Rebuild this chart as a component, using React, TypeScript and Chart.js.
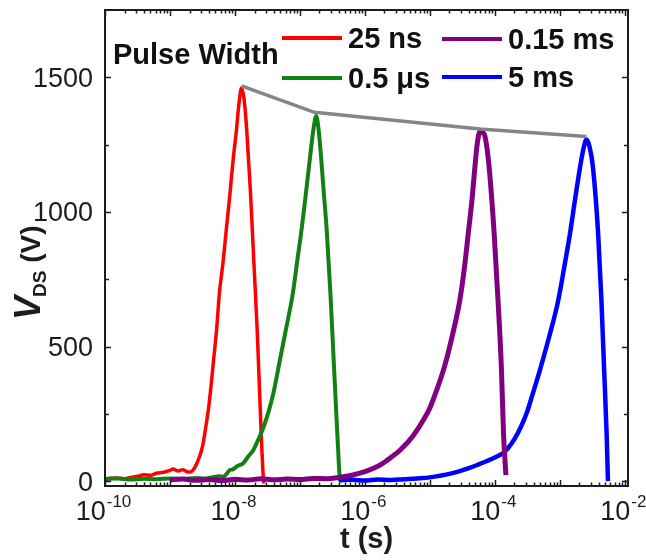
import React, { useEffect, useRef } from "react";
import { Chart, registerables } from "chart.js";

Chart.register(...registerables);

const FONT = '"Liberation Sans", Arial, sans-serif';

// ---- Data (t in seconds, V in volts) ----
const redT = [1e-10, 1.41e-10, 2.0e-10, 2.51e-10, 3.16e-10, 3.98e-10, 5.01e-10, 6.31e-10, 7.94e-10, 1e-9, 1.12e-9, 1.32e-9, 1.58e-9, 1.82e-9, 2.04e-9, 2.4e-9, 2.69e-9, 3.02e-9, 3.24e-9, 3.55e-9, 3.89e-9, 4.27e-9, 4.68e-9, 5.25e-9, 5.75e-9, 6.61e-9, 7.41e-9, 8.32e-9, 9.33e-9, 1.05e-8, 1.15e-8, 1.26e-8, 1.38e-8, 1.51e-8, 1.62e-8, 1.74e-8, 1.95e-8, 2.19e-8, 2.4e-8, 2.57e-8, 2.69e-8, 2.78e-8];
const redV = [8, 12, 9, 14, 18, 24, 22, 30, 33, 40, 45, 38, 42, 35, 34, 50, 75, 110, 140, 200, 263, 350, 448, 570, 696, 820, 942, 1060, 1189, 1300, 1400, 1460, 1420, 1312, 1190, 1066, 818, 571, 325, 140, 40, -8];

const greenT = [1e-10, 1.58e-10, 2.51e-10, 3.98e-10, 6.31e-10, 1e-9, 1.58e-9, 2.51e-9, 3.55e-9, 4.57e-9, 5.62e-9, 6.61e-9, 7.59e-9, 8.32e-9, 9.33e-9, 1.07e-8, 1.35e-8, 1.58e-8, 1.91e-8, 2.29e-8, 2.75e-8, 3.31e-8, 3.89e-8, 4.37e-8, 4.9e-8, 6.17e-8, 7.76e-8, 9.12e-8, 1.07e-7, 1.23e-7, 1.41e-7, 1.62e-7, 1.78e-7, 1.95e-7, 2.14e-7, 2.34e-7, 2.57e-7, 2.95e-7, 3.31e-7, 3.72e-7, 3.98e-7, 4.12e-7];
const greenV = [8, 10, 6, 9, 7, 10, 8, 12, 10, 15, 18, 16, 30, 41, 44, 55, 67, 90, 115, 155, 200, 260, 325, 385, 448, 570, 696, 820, 942, 1065, 1189, 1310, 1356, 1300, 1189, 1065, 942, 696, 448, 200, 60, 0];

const purpleT = [1e-9, 1.58e-9, 2.51e-9, 3.98e-9, 6.31e-9, 1e-8, 1.58e-8, 2.51e-8, 3.98e-8, 6.31e-8, 1e-7, 1.58e-7, 2.51e-7, 3.98e-7, 6.31e-7, 1e-6, 1.58e-6, 2.0e-6, 2.51e-6, 3.47e-6, 5.5e-6, 7.94e-6, 1e-5, 1.26e-5, 1.7e-5, 2.24e-5, 2.88e-5, 3.39e-5, 3.89e-5, 4.47e-5, 4.92e-5, 5.37e-5, 5.89e-5, 6.76e-5, 7.41e-5, 8.18e-5, 9.77e-5, 1.12e-4, 1.26e-4, 1.36e-4, 1.48e-4];
const purpleV = [5, 8, 3, 6, 2, 7, 4, 9, 5, 8, 6, 10, 9, 14, 22, 35, 55, 70, 88, 115, 168, 227, 272, 335, 430, 545, 670, 790, 918, 1050, 1164, 1255, 1298, 1292, 1252, 1164, 918, 670, 423, 177, 22];

const blueT = [3.98e-7, 6.31e-7, 1e-6, 1.58e-6, 2.51e-6, 3.98e-6, 6.31e-6, 1e-5, 1.41e-5, 2.0e-5, 2.88e-5, 3.98e-5, 5.62e-5, 7.41e-5, 1e-4, 1.43e-4, 2.0e-4, 2.51e-4, 3.09e-4, 3.89e-4, 4.9e-4, 6.92e-4, 9.33e-4, 1.17e-3, 1.43e-3, 1.7e-3, 2.04e-3, 2.34e-3, 2.57e-3, 2.88e-3, 3.24e-3, 3.89e-3, 4.37e-3, 4.79e-3, 5.25e-3, 5.5e-3];
const blueV = [3, 5, 2, 6, 4, 7, 10, 14, 20, 27, 37, 48, 62, 74, 88, 110, 156, 201, 253, 330, 410, 540, 665, 795, 918, 1040, 1164, 1240, 1269, 1240, 1164, 918, 670, 423, 177, 0];

const peakT = [1.26e-8, 1.67e-7, 5.89e-5, 2.57e-3];
const peakV = [1468, 1370, 1308, 1280];

const seriesNames = ["25 ns", "0.5 \u03bcs", "0.15 ms", "5 ms"];
const seriesColors = ["#ff0000", "#128012", "#800080", "#0000ff"];

const yMajorTicks = [0, 500, 1000, 1500];
const yMinorTicks = [250, 750, 1250];
const xLabelTicks = [1e-10, 1e-8, 1e-6, 1e-4, 1e-2];
const xLabelExps = ["-10", "-8", "-6", "-4", "-2"];
const xDecades = [-10, -9, -8, -7, -6, -5, -4, -3, -2];

const X_MIN = 1e-10;
const X_MAX = 1.12e-2;
const Y_MIN = -18;
const Y_MAX = 1750;

function pts(ts: number[], vs: number[]) {
  return ts.map((t, i) => ({ x: t, y: vs[i] }));
}

const axisPlugin = {
  id: "axisDecor",
  afterDraw(chart: any) {
    const { ctx, chartArea: a, scales } = chart;
    const xs = scales.x;
    const ys = scales.y;
    ctx.save();
    ctx.strokeStyle = "#1c1c1c";
    ctx.fillStyle = "#1c1c1c";
    ctx.lineWidth = 2;
    ctx.strokeRect(a.left, a.top, a.right - a.left, a.bottom - a.top);

    ctx.lineWidth = 1.5;
    ctx.beginPath();
    for (const v of yMajorTicks) {
      const p = Math.round(ys.getPixelForValue(v)) + 0.5;
      ctx.moveTo(a.left, p); ctx.lineTo(a.left + 6, p);
      ctx.moveTo(a.right, p); ctx.lineTo(a.right - 6, p);
    }
    for (const v of yMinorTicks) {
      const p = Math.round(ys.getPixelForValue(v)) + 0.5;
      ctx.moveTo(a.left, p); ctx.lineTo(a.left + 4, p);
      ctx.moveTo(a.right, p); ctx.lineTo(a.right - 4, p);
    }
    for (const d of xDecades) {
      const base = Math.pow(10, d);
      const p = Math.round(xs.getPixelForValue(base)) + 0.5;
      if (p >= a.left && p <= a.right) {
        ctx.moveTo(p, a.bottom); ctx.lineTo(p, a.bottom - 6);
        ctx.moveTo(p, a.top); ctx.lineTo(p, a.top + 6);
      }
      for (let m = 2; m <= 9; m++) {
        const q = Math.round(xs.getPixelForValue(base * m)) + 0.5;
        if (q > a.left && q < a.right) {
          ctx.moveTo(q, a.bottom); ctx.lineTo(q, a.bottom - 3.5);
          ctx.moveTo(q, a.top); ctx.lineTo(q, a.top + 3.5);
        }
      }
    }
    ctx.stroke();

    ctx.font = `27px ${FONT}`;
    ctx.textAlign = "right";
    ctx.textBaseline = "alphabetic";
    for (const v of yMajorTicks) {
      const p = ys.getPixelForValue(v);
      ctx.fillText(String(v), a.left - 12, p + 9.5);
    }

    ctx.textAlign = "left";
    xLabelTicks.forEach((t, i) => {
      const p = xs.getPixelForValue(t);
      ctx.font = `27px ${FONT}`;
      const wb = ctx.measureText("10").width;
      ctx.font = `17px ${FONT}`;
      const we = ctx.measureText(xLabelExps[i]).width;
      const start = p - (wb + we) / 2 - 2;
      ctx.font = `27px ${FONT}`;
      ctx.fillText("10", start, 520);
      ctx.font = `17px ${FONT}`;
      ctx.fillText(xLabelExps[i], start + wb + 1, 507);
    });

    ctx.font = `bold 29px ${FONT}`;
    ctx.textAlign = "center";
    ctx.fillText("t (s)", (a.left + a.right) / 2, 548);

    ctx.save();
    ctx.translate(40, 320);
    ctx.rotate(-Math.PI / 2);
    ctx.textAlign = "left";
    ctx.font = `italic bold 36px ${FONT}`;
    ctx.fillText("V", 0, 0);
    let off = ctx.measureText("V").width - 1;
    ctx.font = `bold 19px ${FONT}`;
    ctx.fillText("DS", off, 6);
    off += ctx.measureText("DS").width;
    ctx.font = `bold 28px ${FONT}`;
    ctx.fillText(" (V)", off, 0);
    ctx.restore();

    ctx.fillStyle = "#111";
    ctx.font = `bold 29px ${FONT}`;
    ctx.textAlign = "left";
    ctx.fillText("Pulse Width", 113, 64);
    const lx = [282, 282, 442, 442];
    const ly = [38, 78, 39, 77];
    ctx.lineWidth = 4;
    for (let i = 0; i < 4; i++) {
      ctx.strokeStyle = seriesColors[i];
      ctx.beginPath();
      ctx.moveTo(lx[i], ly[i]);
      ctx.lineTo(lx[i] + 60, ly[i]);
      ctx.stroke();
      ctx.fillStyle = "#111";
      ctx.fillText(seriesNames[i], lx[i] + 66, ly[i] + 10);
    }
    ctx.restore();
  },
};

export default function App() {
  const ref = useRef<HTMLCanvasElement | null>(null);
  useEffect(() => {
    if (!ref.current) return;
    const mk = (label: string, ts: number[], vs: number[], color: string, w: number, order: number) => ({
      label,
      data: pts(ts, vs),
      borderColor: color,
      backgroundColor: color,
      borderWidth: w,
      pointRadius: 0,
      fill: false,
      cubicInterpolationMode: "monotone" as const,
      order,
    });
    const chart = new Chart(ref.current, {
      type: "line",
      data: {
        datasets: [
          mk(seriesNames[0], redT, redV, seriesColors[0], 3.5, 4),
          mk(seriesNames[1], greenT, greenV, seriesColors[1], 4, 3),
          mk(seriesNames[2], purpleT, purpleV, seriesColors[2], 5, 1),
          mk(seriesNames[3], blueT, blueV, seriesColors[3], 4.5, 2),
          {
            label: "peak",
            data: pts(peakT, peakV),
            borderColor: "#858585",
            borderWidth: 3.5,
            pointRadius: 0,
            fill: false,
            tension: 0,
            order: 0,
          },
        ],
      },
      options: {
        animation: false,
        responsive: false,
        devicePixelRatio: 1,
        layout: { padding: { left: 105, top: 10, right: 18, bottom: 74 } },
        scales: {
          x: { type: "logarithmic", min: X_MIN, max: X_MAX, display: false },
          y: { type: "linear", min: Y_MIN, max: Y_MAX, display: false },
        },
        plugins: { legend: { display: false }, tooltip: { enabled: false } },
      },
      plugins: [axisPlugin],
    });
    return () => chart.destroy();
  }, []);
  return (
    <div style={{ position: "fixed", left: 0, top: 0, width: 646, height: 560, background: "#fff" }}>
      <canvas ref={ref} width={646} height={560} style={{ width: 646, height: 560 }} />
    </div>
  );
}
